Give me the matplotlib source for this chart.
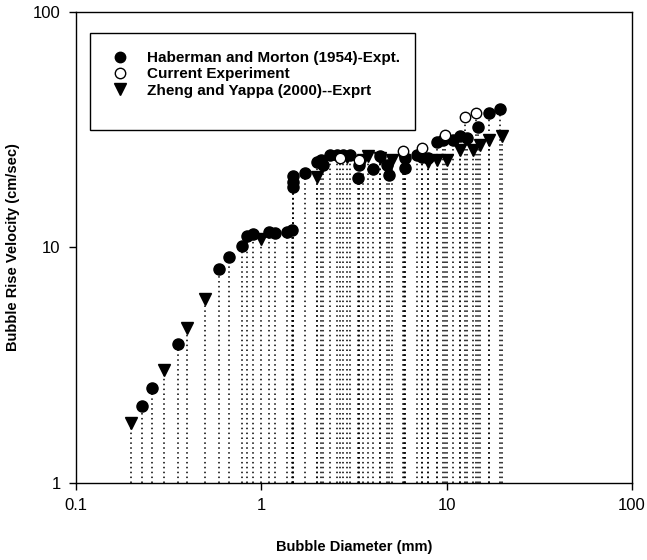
import matplotlib
matplotlib.use('Agg')
import matplotlib.pyplot as plt
from matplotlib.patches import Rectangle
from matplotlib.lines import Line2D

plt.rcParams['font.family'] = ['Liberation Sans', 'DejaVu Sans']

# Haberman and Morton (1954) - filled circles
hm_diam = [0.226, 0.256, 0.354, 0.593, 0.672, 0.79, 0.84, 0.90, 1.10, 1.19, 1.38, 1.47,
           1.49, 1.49, 1.49, 1.72, 1.99, 2.11, 2.16, 2.35, 2.55, 2.77, 3.01, 3.33, 3.37,
           4.02, 4.34, 4.75, 4.91, 5.96, 5.96, 6.9, 7.34, 7.96, 8.84, 9.6, 10.8, 11.8,
           12.9, 14.8, 16.9, 19.4]
hm_vel = [2.13, 2.54, 3.88, 8.08, 9.14, 10.1, 11.2, 11.4, 11.6, 11.5, 11.6, 11.9,
          18.0, 19.0, 20.2, 20.7, 23.1, 23.5, 22.4, 24.7, 24.7, 24.7, 24.7, 19.7, 22.4,
          21.5, 24.5, 22.4, 20.3, 23.9, 21.7, 24.7, 24.3, 23.9, 28.1, 28.6, 28.6, 29.6,
          29.2, 32.6, 37.1, 38.6]

# Current experiment - open circles
ce_diam = [2.66, 3.37, 5.8, 7.34, 9.8, 12.6, 14.4]
ce_vel = [23.9, 23.5, 25.8, 26.4, 30.0, 35.9, 37.1]

# Zheng and Yappa (2000) - down triangles
zy_diam = [0.198, 0.299, 0.396, 0.497, 0.99, 1.99, 2.9, 3.55, 3.78, 4.38, 5.05, 5.9,
           7.96, 8.84, 10.0, 11.8, 13.9, 15.1, 16.8, 19.8]
zy_vel = [1.80, 3.02, 4.54, 6.03, 10.9, 20.0, 24.3, 23.5, 24.5, 24.0, 23.6, 23.5,
          23.1, 23.5, 23.5, 25.9, 25.9, 27.2, 28.6, 29.8]

labels = ['Haberman and Morton (1954)-Expt.', 'Current Experiment',
          'Zheng and Yappa (2000)--Exprt']

fig = plt.figure(figsize=(6.47, 5.6), dpi=100)
ax = fig.add_axes([0.1175, 0.1375, 0.8595, 0.8411])

# dotted drop lines down to the axis
for d, v in [(hm_diam, hm_vel), (ce_diam, ce_vel), (zy_diam, zy_vel)]:
    ax.vlines(d, 1, v, colors='black', linestyles=(0, (1, 2.2)), linewidth=1.1, zorder=1)

ax.plot(hm_diam, hm_vel, 'o', color='black', markersize=8, zorder=3)
ax.plot(ce_diam, ce_vel, 'o', markerfacecolor='white', markeredgecolor='black',
        markeredgewidth=1.0, markersize=7.5, zorder=4)
ax.plot(zy_diam, zy_vel, 'v', color='black', markersize=8.5, zorder=2)

ax.set_xscale('log')
ax.set_yscale('log')
ax.set_xlim(0.1, 100)
ax.set_ylim(1, 100)
ax.set_xticks([0.1, 1, 10, 100])
ax.set_xticklabels(['0.1', '1', '10', '100'])
ax.set_yticks([1, 10, 100])
ax.set_yticklabels(['1', '10', '100'])
ax.minorticks_off()
ax.tick_params(direction='out', length=5, width=1, labelsize=12, pad=6)
for s in ax.spines.values():
    s.set_linewidth(1)

ax.set_xlabel('Bubble Diameter (mm)', fontsize=10.5, fontweight='bold')
ax.set_ylabel('Bubble Rise Velocity (cm/sec)', fontsize=10.5, fontweight='bold')
ax.xaxis.set_label_coords(0.5, -0.12)
ax.yaxis.set_label_coords(-0.1, 0.5)

# legend frame + entries
ax.add_patch(Rectangle((0.025, 0.7485), 0.585, 0.2065, transform=ax.transAxes,
                       facecolor='white', edgecolor='black', linewidth=1, zorder=5))
handles = [Line2D([], [], marker='o', linestyle='none', color='black', markersize=7.5),
           Line2D([], [], marker='o', linestyle='none', markerfacecolor='white',
                  markeredgecolor='black', markersize=7.5),
           Line2D([], [], marker='v', linestyle='none', color='black', markersize=8.5)]
leg = ax.legend(handles, labels, loc='upper left', bbox_to_anchor=(0.04, 0.93),
                frameon=False, prop={'weight': 'bold', 'size': 11},
                handletextpad=0.8, labelspacing=0.15, borderaxespad=0)
leg.set_zorder(6)

fig.savefig('out.png', dpi=100)
